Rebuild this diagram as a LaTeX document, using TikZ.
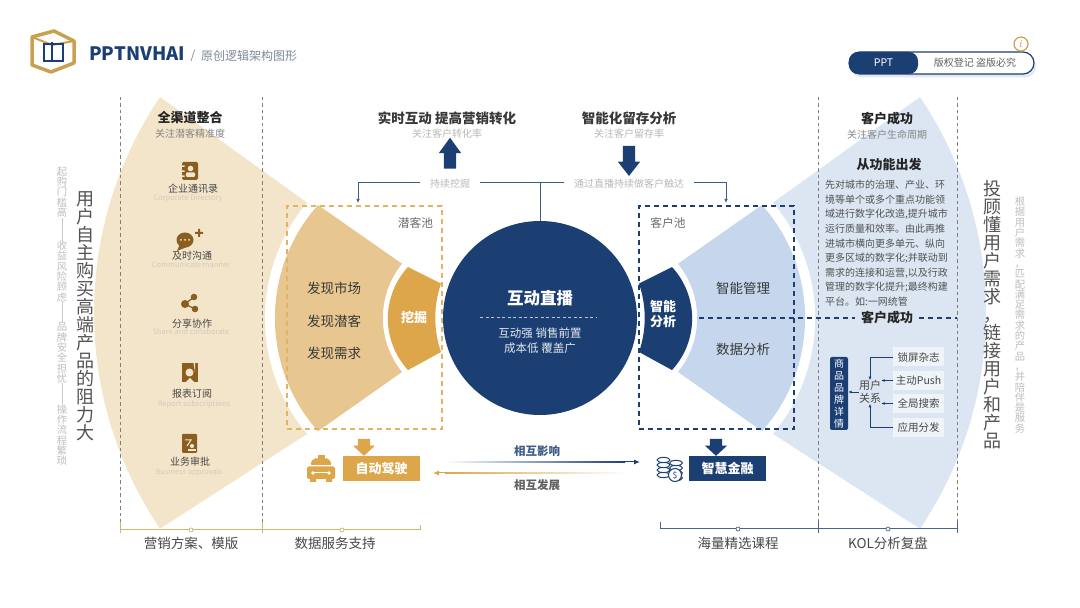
\documentclass[tikz,border=0pt]{standalone}
\usepackage{fontspec}
\setmainfont{Noto Sans CJK SC}
\newfontfamily\infofont{Liberation Serif}
\usepackage{tikz}
\usetikzlibrary{arrows.meta,positioning,shapes.arrows}

\definecolor{navy}{HTML}{1C3F73}
\definecolor{tanPale}{HTML}{F3E5C9}
\definecolor{tanMid}{HTML}{E8C68F}
\definecolor{tanDeep}{HTML}{DDA64A}
\definecolor{bluePale}{HTML}{DCE6F2}
\definecolor{blueMid}{HTML}{C6D7ED}
\definecolor{brownIcon}{HTML}{8A5E20}
\definecolor{goldLine}{HTML}{C9B870}
\definecolor{logoGold}{HTML}{C9A050}

\newcommand{\fs}[2]{\fontsize{#1}{#2}\selectfont}
\makeatletter
\newcommand{\vstack}[1]{\@tfor\vchar:=#1\do{\vchar\par}}
\makeatother

\begin{document}
\begin{tikzpicture}[
  x=1pt,
  y=1pt,
  head/.style={font=\fs{13}{15}\bfseries, text=black!85, inner sep=0pt},
  topic/.style={font=\fs{13.5}{15}\bfseries, text=black!78, inner sep=0pt},
  sub/.style={font=\fs{10}{12}, text=black!48, inner sep=0pt},
  subpale/.style={font=\fs{10}{12}, text=black!28, inner sep=0pt},
  item/.style={font=\fs{10}{12}, text=black!72, inner sep=0pt},
  english/.style={font=\fs{7.5}{9}, text=tanPale!70!black!55, inner sep=0pt},
  body/.style={font=\fs{13.5}{16}, text=black!78, inner sep=0pt},
  foot/.style={font=\fs{13.5}{16}, text=black!72, inner sep=0pt},
  pooltag/.style={font=\fs{11.7}{14}, text=black!58, inner sep=0pt},
  whitebold/.style={font=\fs{13}{15}\bfseries, text=white, inner sep=0pt},
  vbig/.style={font=\fs{18}{18}, text=black!68, text width=22pt, align=center, inner sep=0pt},
  vsmall/.style={font=\fs{10.3}{10.3}, text=black!26, text width=13pt, align=center, inner sep=0pt},
  pool/.style={draw, line width=1.2pt, dash pattern=on 5pt off 4pt, minimum width=155pt, minimum height=223pt, inner sep=0pt},
  banner/.style={minimum width=77pt, minimum height=25pt, inner sep=0pt, font=\fs{13}{15}\bfseries, text=white},
  fatarrow/.style={single arrow, single arrow head extend=5pt, inner xsep=0pt, inner ysep=6pt, draw=none},
  chip/.style={fill=white!55!bluePale, minimum width=51pt, minimum height=19pt, inner sep=0pt, font=\fs{10.5}{12}, text=black!72},
  grid/.style={draw=black!50, line width=0.8pt, dash pattern=on 3.5pt off 3pt},
  trunk/.style={draw=navy!85, line width=1pt},
  elbow/.style={-{Latex[length=4pt,width=3.5pt]}, draw=navy!85, line width=1pt},
  rel/.style={-{Latex[length=3.5pt,width=3pt]}, draw=navy, line width=0.8pt},
  tanfoot/.style={draw=goldLine, line width=1pt},
  navyfoot/.style={draw=navy!80, line width=1pt},
  dot/.style={circle, draw, fill=white, line width=0.7pt, minimum size=4pt, inner sep=0pt}
]
\useasboundingbox (0,0) rectangle (1080,608);

% fan left
\fill[tanPale] (160,511) arc[start angle=146, end angle=214, radius=386] -- (307,174)
  arc[start angle=220, end angle=140, radius=180] -- cycle;
\fill[tanMid] (318,403) arc[start angle=138.3, end angle=221.7, radius=170] -- (402,236)
  arc[start angle=219, end angle=141, radius=86] -- cycle;
\fill[tanDeep] (408,341) arc[start angle=137.3, end angle=222.7, radius=76] -- (441,256)
  arc[start angle=199, end angle=161, radius=105] -- cycle;

% fan right
\fill[bluePale] (920,511) arc[start angle=34, end angle=-34, radius=386] -- (773,174)
  arc[start angle=-40, end angle=40, radius=180] -- cycle;
\fill[blueMid] (762,403) arc[start angle=41.7, end angle=-41.7, radius=170] -- (678,236)
  arc[start angle=-39, end angle=39, radius=86] -- cycle;
\fill[navy] (672,341) arc[start angle=42.7, end angle=-42.7, radius=76] -- (639,256)
  arc[start angle=-19, end angle=19, radius=105] -- cycle;

\foreach \gx in {120,262,818,957}
  \draw[grid] (\gx,511) -- (\gx,76);

% logo
\draw[logoGold, line width=3.5pt, line join=round] (32,571) -- (54,577) -- (74,567) -- (74,545) -- (51,536) -- (32,543) -- cycle;
\draw[logoGold, line width=2pt] (32,571) -- (52,563) -- (74,567);
\draw[navy, line width=1.3pt] (44,547) rectangle (63,564);
\draw[navy, line width=1.3pt] (52,546) -- (52,566);
\node[font=\fs{18.5}{20}\bfseries, text=navy, anchor=west, inner sep=0pt] (brand) at (89,554) {PPTNVHAI};
\node[font=\fs{12}{14}, text=navy!60!black!55, inner sep=0pt] (brandslash) at (193,552) {/};
\node[font=\fs{12}{14}, text=navy!60!black!55, anchor=west, inner sep=0pt] (brandsub) at (201,552) {原创逻辑架构图形};

% pill
\fill[navy!12, rounded corners=11pt] (851,530.5) rectangle (1036,553);
\node[draw=navy, fill=white, line width=1.2pt, rounded corners=11pt, minimum width=185pt, minimum height=22pt, inner sep=0pt] (pill) at (941.5,545) {};
\node[fill=navy, rounded corners=9pt, minimum width=69pt, minimum height=22pt, inner sep=0pt, font=\fs{10.5}{12}, text=white] (ppttag) at (883.5,545) {PPT};
\node[font=\fs{10}{12}, text=black!62, inner sep=0pt] (copyr) at (975,545) {版权登记 盗版必究};
\node[circle, draw=logoGold, fill=white, line width=1.2pt, minimum size=14pt, inner sep=0pt, font=\fs{11}{12}\infofont\itshape, text=logoGold] (info) at (1021,564) {i};

% columns at the far sides
\node[vbig] (leftbig) at (85,292) {\vstack{用户自主购买高端产品的阻力大}};
\node[vsmall] (ls1) at (62,416) {\vstack{起购门槛高}};
\node[vsmall] (ls2) at (62,336.5) {\vstack{收益风险顾虑}};
\node[vsmall] (ls3) at (62,255) {\vstack{品牌安全担忧}};
\node[vsmall] (ls4) at (62,173) {\vstack{操作流程繁琐}};
\draw[draw=black!22, line width=0.7pt] (ls1) -- (ls2);
\draw[draw=black!22, line width=0.7pt] (ls2) -- (ls3);
\draw[draw=black!22, line width=0.7pt] (ls3) -- (ls4);
\node[vbig] (rightbig) at (992,293) {\vstack{投顾懂用户需求，链接用户和产品}};
\node[vsmall] (rightsmall) at (1020,293) {\vstack{根据用户需求，匹配满足需求的产品，并陪伴是服务}};

% channel list
\node[head] (chantitle) at (190,490) {全渠道整合};
\node[sub] (chansub) at (190,474) {关注潜客精准度};
\node[item] (chan1) at (193,419) {企业通讯录};
\node[english] (chan1en) at (188,410) {Corporate Directory};
\node[item] (chan2) at (192,352) {及时沟通};
\node[english] (chan2en) at (191,343) {Communicate manner};
\node[item] (chan3) at (192,284) {分享协作};
\node[english] (chan3en) at (191,276) {Share and collaborate};
\node[item] (chan4) at (192,214) {报表订阅};
\node[english] (chan4en) at (194,204) {Report subscriptions};
\node[item] (chan5) at (190,146) {业务审批};
\node[english] (chan5en) at (189,136) {Business approvals};

% icons
\fill[brownIcon, rounded corners=1.5pt] (182,428) rectangle (198,446);
\fill[tanPale] (182,441) rectangle (184.5,442.5) (182,436) rectangle (184.5,437.5) (182,431) rectangle (184.5,432.5);
\fill[tanPale] (190.5,439.5) circle (2.8);
\fill[tanPale, rounded corners=1pt] (186,431) rectangle (195,435.5);
\fill[brownIcon] (185,368) ellipse [x radius=8.5, y radius=7.5];
\fill[brownIcon] (180,364) -- (177,357) -- (187,361) -- cycle;
\fill[brownIcon] (198,371) rectangle (200,379) (195,374) rectangle (203,376);
\fill[tanPale] (181,368) circle (1) (185,368) circle (1) (189,368) circle (1);
\draw[brownIcon, line width=1.3pt] (194,311) -- (185,304) -- (195,299);
\fill[brownIcon] (185,304) circle (4) (194,311) circle (3.3) (195,299) circle (3.3);
\fill[brownIcon] (182,226) rectangle (198,245);
\fill[tanPale] (189.5,235.5) circle (4);
\fill[tanPale] (195,245) -- (193.5,245) -- (195,236) -- cycle;
\fill[tanPale] (186,226) -- (194,226) -- (190,230) -- cycle;
\fill[brownIcon, rounded corners=1pt] (182,155) rectangle (197,174);
\draw[tanPale, line width=1pt] (185,168) -- (191,168) -- (187,162);
\fill[tanPale] (192,162) circle (2.1);
\fill[tanPale] (188,157) rectangle (196,158.8);

% pools
\node[pool, draw=tanDeep!85] (leadpool) at (364.5,290.5) {};
\node[pool, draw=navy] (custpool) at (716.5,290.5) {};
\node[pooltag] (leadtag) at (415.5,385) {潜客池};
\node[pooltag] (custtag) at (668,385) {客户池};
\node[body] (find1) at (334,320) {发现市场};
\node[body] (find2) at (334,287) {发现潜客};
\node[body] (find3) at (334,255) {发现需求};
\node[whitebold] (digtag) at (414,290) {挖掘};
\node[whitebold, align=center] (smarttag) at (663,293.5) {智能\\分析};
\node[body] (smart1) at (743,320) {智能管理};
\node[body] (smart2) at (743,259) {数据分析};

% centre
\node[circle, fill=navy, minimum size=194pt, inner sep=0pt] (live) at (540,290) {};
\node[font=\fs{16.5}{20}\bfseries, text=white, inner sep=0pt] (livetitle) at (540,310) {互动直播};
\node[font=\fs{11.5}{15}, text=white!88!navy, align=center, inner sep=0pt] (livesub) at (540,267) {互动强 销售前置\\成本低 覆盖广};
\draw[white!70!navy, line width=0.6pt, dash pattern=on 3pt off 2.5pt] (480,291) -- (597,291);

% top labels
\node[topic] (toptitleL) at (447,490) {实时互动 提高营销转化};
\node[subpale] (topsubL) at (447,474) {关注客户转化率};
\node[topic] (toptitleR) at (629,490) {智能化留存分析};
\node[subpale] (topsubR) at (629,474) {关注客户留存率};
\node[fatarrow, fill=navy, minimum height=31pt, rotate=90, single arrow tip angle=72] (uparrow) at (450,450.5) {};
\node[fatarrow, fill=navy, minimum height=30pt, rotate=270, single arrow tip angle=76] (downarrow) at (629,451) {};
\node[subpale, inner xsep=10pt] (digroute) at (450,424) {持续挖掘};
\node[subpale, inner xsep=10pt] (reachroute) at (629,424) {通过直播持续做客户触达};
\coordinate (hub) at (540,425);
\coordinate (leaddrop) at (358,405);
\coordinate (custdrop) at (726,405);
\draw[trunk] (live.north) -- (hub);
\draw[trunk] (digroute.east |- hub) -- (reachroute.west |- hub);
\draw[elbow] (digroute.west |- hub) -| (leaddrop);
\draw[elbow] (reachroute.east |- hub) -| (custdrop);

% lower banners
\node[fatarrow, fill=tanDeep, minimum height=17pt, rotate=270, single arrow tip angle=95] (tandown) at (364,163.5) {};
\node[fatarrow, fill=navy, minimum height=17pt, rotate=270, single arrow tip angle=95] (navydown) at (716,163.5) {};
\node[banner, fill=tanDeep] (drive) at (381.5,139.5) {自动驾驶};
\node[banner, fill=navy] (fintech) at (727.5,139.5) {智慧金融};

% car
\fill[tanDeep] (318,149) rectangle (325,153);
\fill[tanDeep, rounded corners=2pt] (310,143) -- (313,149.5) -- (329,149.5) -- (332,143) -- cycle;
\fill[tanDeep, rounded corners=2pt] (307,129) rectangle (335,141.5);
\fill[tanDeep] (310,126) rectangle (316,129) (326,126) rectangle (332,129);
\draw[white, line width=1pt] (314,135) -- (328,135);
\fill[white] (313,135) circle (1.8) (329,135) circle (1.8);

% coins
\foreach \cy in {133,138,143,148}
  \draw[navy, fill=white, line width=1pt] (663.5,\cy) ellipse [x radius=6.5, y radius=2.6];
\foreach \cy in {130,135,140,145}
  \draw[navy, fill=white, line width=1pt] (676,\cy) ellipse [x radius=6.5, y radius=2.6];
\node[circle, draw=navy, fill=white, line width=1pt, minimum size=13pt, inner sep=0pt, font=\fs{8.5}{10}, text=navy] (dollar) at (675,133) {\$};

% middle arrows
\coordinate (infstart) at (445,146);
\coordinate (infend) at (640,146);
\coordinate (devstart) at (627,135);
\coordinate (devend) at (433,135);
\draw[-{Latex[length=6pt,width=5pt]}, draw=navy, line width=1pt] (infstart) -- (infend);
\shade[left color=white, right color=navy] (445,145.4) rectangle (625,146.6);
\draw[-{Latex[length=6pt,width=5pt]}, draw=tanDeep, line width=1pt] (devstart) -- (devend);
\shade[right color=white, left color=tanDeep] (445,134.4) rectangle (628,135.6);
\node[font=\fs{11.5}{14}\bfseries, text=navy!85] (inftext) at (537,157) {相互影响};
\node[font=\fs{11.5}{14}\bfseries, text=black!62] (devtext) at (537,122.5) {相互发展};

% customer success column
\node[head] (succtitle) at (887,489) {客户成功};
\node[sub] (succsub) at (887,473) {关注客户生命周期};
\node[head] (fromfunc) at (889,443) {从功能出发};
\node[font=\fs{10}{14.6}, text=black!68, align=left, anchor=north west, inner sep=0pt] (funcbody) at (825,428)
  {先对城市的治理、产业、环\\境等单个或多个重点功能领\\域进行数字化改造,提升城市\\运行质量和效率。由此再推\\进城市横向更多单元、纵向\\更多区域的数字化;并联动到\\需求的连接和运营,以及行政\\管理的数字化提升;最终构建\\平台。如:一网统管};
\node[head, fill=bluePale, inner xsep=6pt] (succbar) at (887,290) {客户成功};
\coordinate (dashstart) at (699,290);
\coordinate (dashend) at (957,290);
\draw[navy, line width=1.2pt, dash pattern=on 5pt off 4pt] (dashstart) -- (succbar.west);
\draw[navy, line width=1.2pt, dash pattern=on 5pt off 4pt] (succbar.east) -- (dashend);

% relation tree
\node[fill=navy, rounded corners=2pt, minimum width=18pt, minimum height=73pt, text width=14pt, align=center, inner sep=0pt, font=\fs{10}{12}, text=white] (goods) at (839,214.5) {\vstack{商品品牌详情}};
\node[font=\fs{11}{13}, text=black!72, align=center, inner sep=0pt] (userrel) at (870,216) {用户\\关系};
\node[chip] (lock) at (918.5,251) {锁屏杂志};
\node[chip] (push) at (918.5,227.5) {主动Push};
\node[chip] (search) at (918.5,204.5) {全局搜索};
\node[chip] (appdist) at (918.5,180.5) {应用分发};
\draw[rel] (lock.west) -| (userrel.north);
\draw[rel] (appdist.west) -| (userrel.south);
\draw[rel] (push.west) -- (push.west -| userrel.east);
\draw[rel] (search.west) -- (search.west -| userrel.east);
\draw[rel] (userrel.west) -- (goods.east |- userrel.west);

% foot lines
\draw[tanfoot] (120,86) -- (120,75);
\draw[tanfoot] (120,78) -- (262,78);
\draw[tanfoot] (262,86) -- (262,75);
\draw[tanfoot] (262,78) -- (420,78) -- (420,83);
\draw[navyfoot] (660,86) -- (660,79) -- (818,79);
\draw[navyfoot] (818,86) -- (818,75);
\draw[navyfoot] (818,79) -- (957,79);
\draw[navyfoot] (957,86) -- (957,75);
\node[dot, draw=goldLine] (footdot1) at (191,78) {};
\node[dot, draw=goldLine] (footdot2) at (342,78) {};
\node[dot, draw=navy!80] (footdot3) at (738,79) {};
\node[dot, draw=navy!80] (footdot4) at (888,79) {};
\node[foot] (foot1) at (191,65) {营销方案、模版};
\node[foot] (foot2) at (335,65) {数据服务支持};
\node[foot] (foot3) at (738,65) {海量精选课程};
\node[foot] (foot4) at (888,65) {KOL分析复盘};
\end{tikzpicture}
\end{document}
